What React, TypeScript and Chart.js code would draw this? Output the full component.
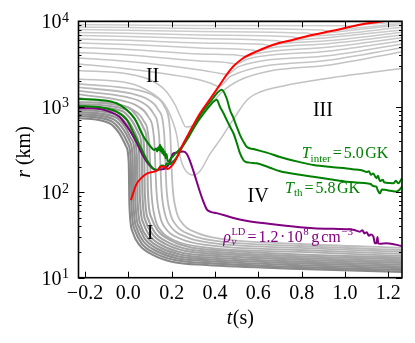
import React, { useEffect, useRef } from 'react';
import { Chart, registerables } from 'chart.js';

Chart.register(...registerables);

type P = [number, number];

// ---------- axes ----------
const tRange: P = [-0.23, 1.263];
const rRange: P = [10, 10000];
const tTicks = [-0.2, 0, 0.2, 0.4, 0.6, 0.8, 1.0, 1.2];
const rDecades = [10, 100, 1000, 10000];
const rDecadeExp = ['1', '2', '3', '4'];
const rMinorTicks = [20, 30, 40, 50, 60, 70, 80, 90, 200, 300, 400, 500, 600, 700, 800, 900, 2000, 3000, 4000, 5000, 6000, 7000, 8000, 9000];

// ---------- highlighted curves (t [s], r [km]) ----------
const shockRadius: P[] = [[0.012, 81], [0.036, 122], [0.066, 152], [0.09, 167], [0.12, 174], [0.136, 182], [0.151, 199], [0.166, 199], [0.175, 190], [0.182, 187], [0.197, 199], [0.221, 245], [0.251, 360], [0.285, 520], [0.331, 840], [0.377, 1230], [0.423, 1813], [0.454, 2372], [0.485, 2976], [0.531, 3724], [0.593, 4457], [0.669, 5325], [0.761, 6090], [0.854, 6970], [0.931, 7640], [1.085, 9300], [1.2, 10200]];

const tInter: P[] = [[-0.23, 1233], [-0.131, 1202], [-0.054, 1099], [-0.007, 917], [0.028, 733], [0.066, 468], [0.097, 357], [0.12, 313], [0.128, 325], [0.133, 300], [0.138, 335], [0.142, 310], [0.146, 360], [0.15, 300], [0.153, 340], [0.157, 285], [0.16, 320], [0.164, 270], [0.168, 300], [0.172, 250], [0.176, 280], [0.181, 235], [0.187, 228], [0.194, 245], [0.205, 262], [0.215, 280], [0.23, 305], [0.25, 350], [0.28, 470], [0.31, 640], [0.34, 860], [0.377, 1130], [0.41, 1450], [0.431, 1585], [0.454, 1250], [0.469, 917], [0.485, 740], [0.5, 585], [0.515, 470], [0.531, 391], [0.546, 341], [0.577, 320], [0.639, 291], [0.7, 258], [0.792, 225], [0.854, 208], [0.946, 196], [1.008, 190], [1.05, 184], [1.08, 180], [1.1, 172], [1.11, 176], [1.12, 160], [1.13, 166], [1.145, 146], [1.152, 156], [1.161, 135], [1.175, 140], [1.18, 131], [1.192, 129], [1.21, 128], [1.223, 127], [1.235, 136], [1.245, 127], [1.263, 145]];

const tTh: P[] = [[-0.23, 1021], [-0.131, 986], [-0.054, 877], [-0.007, 701], [0.028, 468], [0.059, 327], [0.09, 228], [0.113, 191], [0.136, 182], [0.146, 199], [0.16, 205], [0.168, 195], [0.177, 218], [0.19, 212], [0.2, 222], [0.22, 250], [0.25, 340], [0.28, 450], [0.31, 610], [0.34, 790], [0.37, 990], [0.395, 1160], [0.408, 1210], [0.423, 1000], [0.438, 850], [0.454, 701], [0.47, 580], [0.485, 490], [0.5, 380], [0.515, 286], [0.53, 240], [0.539, 228], [0.56, 222], [0.593, 218], [0.65, 195], [0.7, 176], [0.792, 160], [0.854, 152], [0.946, 140], [1.008, 133], [1.05, 130], [1.1, 127], [1.12, 124], [1.13, 118], [1.145, 116], [1.152, 104], [1.161, 97], [1.17, 108], [1.192, 106], [1.21, 104], [1.239, 102], [1.25, 106], [1.263, 116]];

const rhoLD: P[] = [[-0.23, 960], [-0.164, 960], [-0.088, 877], [-0.042, 766], [0.005, 535], [0.036, 391], [0.066, 273], [0.097, 208], [0.128, 182], [0.15, 185], [0.17, 190], [0.19, 220], [0.205, 280], [0.22, 290], [0.254, 299], [0.27, 280], [0.285, 230], [0.3, 178], [0.331, 100], [0.346, 78], [0.362, 63], [0.38, 59], [0.408, 57], [0.485, 50], [0.55, 46], [0.639, 43], [0.792, 39], [0.854, 38], [0.946, 37.3], [1.008, 37], [1.038, 36.5], [1.069, 34.6], [1.08, 36], [1.09, 33], [1.1, 34], [1.11, 31], [1.12, 32], [1.131, 30.3], [1.138, 25.3], [1.145, 25.3], [1.15, 30], [1.153, 25.2], [1.161, 25], [1.192, 25.3], [1.263, 23.5]];

// ---------- tracer trajectories (grey) ----------
// accreted onto the proto-neutron star (region I)
const inner0: P[] = [[-0.23, 740], [-0.089, 646], [-0.043, 494], [-0.011, 348], [0.002, 220], [0.005, 71], [0.02, 34.3], [0.051, 24.2], [0.113, 18.5], [0.205, 15.3], [0.359, 14.1], [0.792, 12.7], [1.263, 11.7]];
const inner1: P[] = [[-0.23, 781], [-0.08, 682], [-0.034, 521], [-0.001, 367], [0.011, 232], [0.014, 74.6], [0.03, 36.0], [0.06, 25.4], [0.122, 19.4], [0.214, 16.1], [0.368, 14.8], [0.792, 13.3], [1.263, 12.3]];
const inner2: P[] = [[-0.23, 824], [-0.071, 720], [-0.024, 550], [0.008, 388], [0.02, 245], [0.023, 78.3], [0.039, 37.8], [0.069, 26.7], [0.131, 20.4], [0.223, 16.9], [0.377, 15.6], [0.792, 14.0], [1.263, 12.9]];
const inner3: P[] = [[-0.23, 869], [-0.061, 760], [-0.015, 580], [0.017, 409], [0.03, 259], [0.032, 82.1], [0.048, 39.7], [0.078, 28.0], [0.14, 21.4], [0.233, 17.7], [0.386, 16.3], [0.792, 14.7], [1.263, 13.5]];
const inner4: P[] = [[-0.23, 917], [-0.052, 802], [-0.006, 613], [0.026, 432], [0.039, 273], [0.042, 86.2], [0.057, 41.7], [0.088, 29.4], [0.15, 22.4], [0.242, 18.6], [0.395, 17.1], [0.792, 15.4], [1.263, 14.2]];
const inner5: P[] = [[-0.23, 968], [-0.041, 846], [0.006, 646], [0.038, 455], [0.05, 288], [0.053, 90.5], [0.069, 43.7], [0.099, 30.8], [0.161, 23.5], [0.253, 19.5], [0.407, 18.0], [0.792, 16.2], [1.263, 14.9]];
const inner6: P[] = [[-0.23, 1022], [-0.029, 893], [0.017, 682], [0.049, 481], [0.062, 304], [0.065, 95.0], [0.08, 45.9], [0.111, 32.4], [0.173, 24.7], [0.265, 20.5], [0.419, 18.9], [0.792, 17.0], [1.263, 15.6]];
const inner7: P[] = [[-0.23, 1078], [-0.018, 943], [0.029, 720], [0.061, 507], [0.073, 321], [0.076, 99.7], [0.092, 48.2], [0.122, 34.0], [0.184, 25.9], [0.276, 21.5], [0.43, 19.8], [0.792, 17.8], [1.263, 16.4]];
const inner8: P[] = [[-0.23, 1138], [-0.004, 995], [0.042, 760], [0.075, 535], [0.087, 339], [0.09, 104.7], [0.106, 50.6], [0.136, 35.6], [0.198, 27.2], [0.29, 22.6], [0.444, 20.8], [0.792, 18.7], [1.263, 17.2]];
const mid0: P[] = [[-0.23, 1267], [-0.057, 1078], [0.022, 917], [0.068, 701], [0.096, 377], [0.107, 95.5], [0.123, 50.0], [0.151, 35.3], [0.22, 26.9], [0.335, 22.9], [0.792, 20.0], [1.263, 18.0]];
const mid1: P[] = [[-0.23, 1393], [-0.034, 1185], [0.045, 1008], [0.091, 770], [0.119, 415], [0.13, 100.8], [0.146, 52.8], [0.174, 37.2], [0.243, 28.4], [0.359, 24.2], [0.792, 21.1], [1.263, 19.0]];
const mid2: P[] = [[-0.23, 1530], [-0.011, 1302], [0.068, 1108], [0.114, 846], [0.142, 455], [0.153, 106.4], [0.169, 55.8], [0.197, 39.3], [0.266, 30.0], [0.382, 25.5], [0.792, 22.3], [1.263, 20.0]];
const mid3: P[] = [[-0.23, 1682], [0.012, 1431], [0.091, 1217], [0.137, 930], [0.165, 500], [0.176, 112.3], [0.192, 58.8], [0.22, 41.4], [0.289, 31.7], [0.405, 26.9], [0.792, 23.5], [1.263, 21.1]];
const mid4: P[] = [[-0.23, 1848], [0.04, 1573], [0.119, 1338], [0.165, 1022], [0.192, 550], [0.204, 118.5], [0.22, 62.1], [0.248, 43.7], [0.317, 33.4], [0.432, 28.4], [0.792, 24.8], [1.263, 22.3]];
// turning trajectories
const turnLow: P[] = [[-0.23, 2114], [0.0, 1898], [0.1, 1490], [0.169, 1050], [0.202, 701], [0.223, 468], [0.239, 259], [0.257, 192], [0.28, 164], [0.303, 159], [0.331, 177], [0.377, 281], [0.423, 409], [0.483, 701], [0.548, 1202], [0.608, 1490], [0.714, 1750], [0.931, 2172], [1.263, 2805]];
const turnHigh: P[] = [[-0.23, 2658], [0.0, 2419], [0.101, 2058], [0.169, 1573], [0.216, 1050], [0.243, 740], [0.266, 580], [0.294, 596], [0.331, 720], [0.377, 1022], [0.432, 1490], [0.515, 2058], [0.654, 2622], [0.931, 3083], [1.263, 4410]];
// shocked and ejected trajectories
const outer12: P[] = [[-0.23, 3167], [0.0, 2767], [0.331, 2058], [0.377, 1898], [0.419, 1728], [0.474, 2292], [0.931, 3527], [1.263, 4911]];
const outer11: P[] = [[-0.23, 3723], [0.0, 3388], [0.331, 2694], [0.419, 2466], [0.455, 2387], [0.511, 2969], [0.931, 3981], [1.263, 5427]];
const outer10: P[] = [[-0.23, 4316], [0.0, 4035], [0.331, 3434], [0.46, 3270], [0.497, 3167], [0.552, 3624], [0.931, 4494], [1.263, 5930]];
const outer9: P[] = [[-0.23, 4937], [0.0, 4679], [0.331, 4145], [0.506, 4003], [0.543, 3875], [0.598, 4236], [0.931, 5004], [1.263, 6428]];
const outer8: P[] = [[-0.23, 5575], [0.0, 5354], [0.331, 4872], [0.561, 4642], [0.598, 4494], [0.654, 4872], [0.931, 5500], [1.263, 6914]];
const outer7: P[] = [[-0.23, 6209], [0.0, 5995], [0.331, 5575], [0.622, 5383], [0.658, 5211], [0.714, 5486], [0.931, 5962], [1.263, 7435]];
const outer6: P[] = [[-0.23, 6822], [0.0, 6640], [0.331, 6290], [0.686, 5914], [0.723, 5727], [0.778, 6043], [0.931, 6462], [1.263, 7911]];
const outer5: P[] = [[-0.23, 7396], [0.0, 7236], [0.331, 6914], [0.755, 6586], [0.792, 6376], [0.847, 6694], [0.931, 6914], [1.263, 8507]];
const outer4: P[] = [[-0.23, 8018], [0.0, 7868], [0.331, 7597], [0.824, 7278], [0.861, 7045], [0.916, 7316], [1.263, 9051]];
const outer3: P[] = [[-0.23, 8576], [0.0, 8462], [0.331, 8237], [0.894, 7890], [0.931, 7638], [0.987, 7997], [1.263, 9423]];
const outer2: P[] = [[-0.23, 9174], [0.0, 9051], [0.331, 8929], [0.996, 8869], [1.033, 8810], [1.088, 9149], [1.263, 9813]];
const outer1: P[] = [[-0.23, 9865], [0.331, 9800], [1.1, 9734], [1.139, 9700], [1.263, 10400]];

const greyTracks: P[][] = [outer1, outer2, outer3, outer4, outer5, outer6, outer7, outer8, outer9, outer10, outer11, outer12, turnHigh, turnLow, mid4, mid3, mid2, mid1, mid0, inner8, inner7, inner6, inner5, inner4, inner3, inner2, inner1, inner0];
const greyShades = ['#cfcfcf', '#cecece', '#cdcdcd', '#cccccc', '#cbcbcb', '#cacaca', '#c9c9c9', '#c8c8c8', '#c7c7c7', '#c6c6c6', '#c5c5c5', '#c4c4c4', '#c3c3c3', '#c2c2c2', '#bdbdbd', '#b9b9b9', '#b5b5b5', '#b1b1b1', '#adadad', '#a8a8a8', '#a4a4a4', '#a0a0a0', '#9c9c9c', '#989898', '#949494', '#909090', '#8c8c8c', '#888888'];
const greyWidths = [1.5, 1.5, 1.5, 1.5, 1.5, 1.5, 1.5, 1.5, 1.5, 1.5, 1.5, 1.5, 1.5, 1.5, 1.8, 1.8, 1.8, 1.8, 1.8, 2.1, 2.1, 2.1, 2.1, 2.1, 2.1, 2.1, 2.1, 2.1];

// ---------- annotations ----------
const regionLabels = [
  { text: 'I', t: 0.1, r: 34.3 },
  { text: 'II', t: 0.112, r: 2354 },
  { text: 'III', t: 0.898, r: 930 },
  { text: 'IV', t: 0.599, r: 93 },
];

const SERIF = '"Liberation Serif", "DejaVu Serif", serif';
const fnt = (size: number, it = false) => `${it ? 'italic ' : ''}${size}px ${SERIF}`;

type Seg = { s: string; size: number; it?: boolean; dy?: number; gap?: number; stay?: boolean };

function drawSegs(ctx: CanvasRenderingContext2D, x: number, y: number, segs: Seg[], color: string) {
  let cx = x;
  ctx.fillStyle = color;
  ctx.textAlign = 'left';
  ctx.textBaseline = 'alphabetic';
  for (const g of segs) {
    cx += g.gap ?? 0;
    ctx.font = fnt(g.size, g.it);
    ctx.fillText(g.s, cx, y + (g.dy ?? 0));
    if (!g.stay) cx += ctx.measureText(g.s).width;
  }
  return cx;
}

function segWidth(ctx: CanvasRenderingContext2D, segs: Seg[]) {
  let w = 0;
  for (const g of segs) {
    w += g.gap ?? 0;
    ctx.font = fnt(g.size, g.it);
    if (!g.stay) w += ctx.measureText(g.s).width;
  }
  return w;
}

const framePlugin = {
  id: 'framePlugin',
  afterDatasetsDraw(chart: any) {
    const { ctx, chartArea: a, scales } = chart;
    const xs = scales.x;
    const ys = scales.y;
    ctx.save();
    // inward ticks
    ctx.strokeStyle = '#000';
    ctx.lineWidth = 1;
    ctx.beginPath();
    for (const v of tTicks) {
      const px = Math.round(xs.getPixelForValue(v)) + 0.5;
      ctx.moveTo(px, a.bottom); ctx.lineTo(px, a.bottom - 6);
      ctx.moveTo(px, a.top); ctx.lineTo(px, a.top + 6);
    }
    for (const v of rDecades) {
      const py = Math.round(ys.getPixelForValue(v)) + 0.5;
      ctx.moveTo(a.left, py); ctx.lineTo(a.left + 6, py);
      ctx.moveTo(a.right, py); ctx.lineTo(a.right - 6, py);
    }
    for (const v of rMinorTicks) {
      const py = Math.round(ys.getPixelForValue(v)) + 0.5;
      ctx.moveTo(a.left, py); ctx.lineTo(a.left + 3, py);
      ctx.moveTo(a.right, py); ctx.lineTo(a.right - 3, py);
    }
    ctx.stroke();
    // frame
    ctx.lineWidth = 1.6;
    ctx.strokeRect(a.left, a.top, a.right - a.left, a.bottom - a.top);

    // y tick labels 10^n
    ctx.fillStyle = '#000';
    ctx.textBaseline = 'alphabetic';
    rDecades.forEach((v, i) => {
      const py = ys.getPixelForValue(v);
      const right = a.left - 9.5;
      ctx.font = fnt(14);
      const ew = ctx.measureText(rDecadeExp[i]).width;
      ctx.textAlign = 'left';
      ctx.fillText(rDecadeExp[i], right - ew, py + 0.5);
      ctx.font = fnt(20);
      ctx.textAlign = 'right';
      ctx.fillText('10', right - ew - 0.5, py + 6.8);
    });

    // axis titles
    const xt: Seg[] = [{ s: 't', size: 20, it: true }, { s: '(s)', size: 20, gap: 0.5 }];
    const xw = segWidth(ctx, xt);
    drawSegs(ctx, (a.left + a.right) / 2 - xw / 2, 324, xt, '#000');
    const yt: Seg[] = [{ s: 'r', size: 20, it: true }, { s: '(km)', size: 20, gap: 5 }];
    const yw = segWidth(ctx, yt);
    ctx.save();
    ctx.translate(a.left - 48.5, (a.top + a.bottom) / 2 + 2.5);
    ctx.rotate(-Math.PI / 2);
    drawSegs(ctx, -yw / 2, 0, yt, '#000');
    ctx.restore();

    // region labels
    ctx.font = fnt(20);
    ctx.textAlign = 'center';
    ctx.fillStyle = '#000';
    for (const l of regionLabels) {
      ctx.fillText(l.text, xs.getPixelForValue(l.t), ys.getPixelForValue(l.r) + 6.6);
    }

    // curve labels
    const green = '#008000';
    drawSegs(ctx, xs.getPixelForValue(0.8), ys.getPixelForValue(250), [
      { s: 'T', size: 16, it: true },
      { s: 'inter', size: 11, dy: 3.5, gap: 0 },
      { s: '=', size: 16, gap: 2 },
      { s: '5.0', size: 16, gap: 2 },
      { s: 'GK', size: 16, gap: 1.5 },
    ], green);
    drawSegs(ctx, xs.getPixelForValue(0.723), ys.getPixelForValue(98.1), [
      { s: 'T', size: 16, it: true },
      { s: 'th', size: 11, dy: 3.5, gap: 0 },
      { s: '=', size: 16, gap: 2 },
      { s: '5.8', size: 16, gap: 2 },
      { s: 'GK', size: 16, gap: 1.5 },
    ], green);
    drawSegs(ctx, xs.getPixelForValue(0.438), ys.getPixelForValue(26.2), [
      { s: 'ρ', size: 16, it: true },
      { s: 'ν', size: 11, it: true, dy: 3.5, gap: 0.5, stay: true },
      { s: 'LD', size: 10.5, dy: -7, gap: 0 },
      { s: '=', size: 16, gap: 2 },
      { s: '1.2', size: 16, gap: 2 },
      { s: '·', size: 16, gap: 1.5 },
      { s: '10', size: 16, gap: 1.5 },
      { s: '8', size: 11, dy: -7, gap: 0.5 },
      { s: 'g', size: 16, gap: 2.5 },
      { s: 'cm', size: 16, gap: 2 },
      { s: '\u22123', size: 11, dy: -7, gap: 0.5 },
    ], '#800080');
    ctx.restore();
  },
};

export default function App() {
  const ref = useRef<HTMLCanvasElement | null>(null);
  useEffect(() => {
    if (!ref.current) return;
    const line = (data: P[], color: string, width: number) => ({
      data,
      borderColor: color,
      borderWidth: width,
      pointRadius: 0,
      fill: false,
      cubicInterpolationMode: 'monotone' as const,
    });
    const datasets: any[] = [
      line(shockRadius, '#ff0000', 2),
      line(tInter, '#008000', 2),
      line(tTh, '#008000', 2),
      line(rhoLD, '#800080', 2),
      ...greyTracks.map((d, i) => line(d, greyShades[i], greyWidths[i])),
    ];
    const chart = new Chart(ref.current, {
      type: 'line',
      data: { datasets },
      options: {
        animation: false,
        responsive: false,
        devicePixelRatio: 1,
        layout: { padding: { top: 21.3, right: 13, left: 0, bottom: 0 } },
        plugins: { legend: { display: false }, tooltip: { enabled: false } },
        scales: {
          x: {
            type: 'linear',
            min: tRange[0],
            max: tRange[1],
            grid: { display: false, drawTicks: false },
            border: { display: false },
            afterBuildTicks: (s: any) => { s.ticks = tTicks.map((v) => ({ value: v })); },
            afterFit: (s: any) => { s.height = 65.3; },
            ticks: {
              color: '#000',
              font: { family: SERIF, size: 20 },
              padding: 4,
              maxRotation: 0,
              autoSkip: false,
              callback: (v: any) => {
                const n = Math.round(Number(v) * 10) / 10;
                return (n < 0 ? '\u2212' : '') + Math.abs(n).toFixed(1);
              },
            },
          },
          y: {
            type: 'logarithmic',
            min: rRange[0],
            max: rRange[1],
            grid: { display: false, drawTicks: false },
            border: { display: false },
            afterFit: (s: any) => { s.width = 78.5; },
            ticks: { display: false },
          },
        },
      },
      plugins: [framePlugin],
    });
    return () => chart.destroy();
  }, []);
  return (
    <div style={{ position: 'absolute', left: 0, top: 0, width: 415, height: 343, background: '#fff' }}>
      <canvas ref={ref} width={415} height={343} style={{ display: 'block' }} />
    </div>
  );
}
